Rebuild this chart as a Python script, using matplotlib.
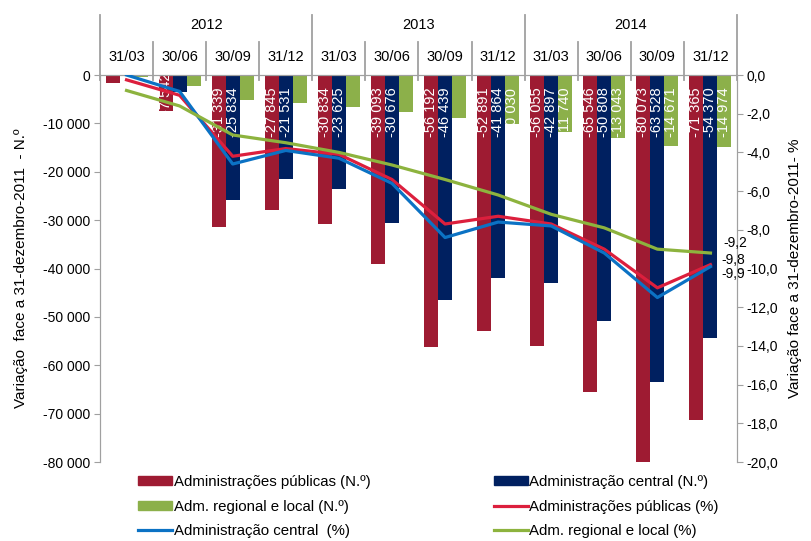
import matplotlib
matplotlib.use("Agg")
import matplotlib.pyplot as plt
from matplotlib.ticker import FuncFormatter, FixedLocator
from matplotlib.transforms import blended_transform_factory, offset_copy
from matplotlib.patches import Patch
from matplotlib.lines import Line2D
import numpy as np

plt.rcParams['font.family'] = ['Liberation Sans', 'DejaVu Sans']

# Dados
anos = ['2012', '2013', '2014']
datas = ['31/03', '30/06', '30/09', '31/12'] * 3

ap_n = [-1650, -7542, -31339, -27845, -30834, -39093, -56192, -52891, -56055, -65546, -80073, -71365]
ac_n = [-200, -3500, -25834, -21531, -23625, -30676, -46439, -41864, -42897, -50808, -63528, -54370]
arl_n = [-400, -2200, -5200, -5800, -6600, -7600, -8900, -10030, -11740, -13043, -14671, -14974]

ap_pct = [-0.25, -1.05, -4.2, -3.8, -4.1, -5.4, -7.7, -7.3, -7.7, -9.0, -11.0, -9.8]
ac_pct = [0.0, -0.85, -4.6, -3.9, -4.3, -5.6, -8.4, -7.6, -7.8, -9.2, -11.5, -9.9]
arl_pct = [-0.8, -1.6, -3.1, -3.5, -4.0, -4.65, -5.4, -6.2, -7.2, -7.9, -9.0, -9.2]

# Cores
c_ap = '#9E1B32'
c_ac = '#002060'
c_arl = '#8CB04A'
l_ap = '#DC1F3D'
l_ac = '#0B72C4'
l_arl = '#8DB33E'
cinza = '#A0A0A0'

W, H = 812, 541
fig = plt.figure(figsize=(W / 100, H / 100), dpi=100)
ax = fig.add_axes([100 / W, 1 - 462 / H, 637 / W, 387 / H])
ax2 = ax.twinx()

x = np.arange(len(datas))
w = 0.264
b1 = ax.bar(x - w, ap_n, w, color=c_ap, zorder=2)
b2 = ax.bar(x, ac_n, w, color=c_ac, zorder=2)
b3 = ax.bar(x + w, arl_n, w, color=c_arl, zorder=2)

ax.set_xlim(-0.5, len(datas) - 0.5)
ax.set_ylim(-80000, 0)
ax2.set_ylim(-20, 0)

# Etiquetas das barras (brancas, dentro da barra)
def fmt_n(v):
    return f"{v:,.0f}".replace(',', ' ')

for serie, dx in [(ap_n, -w), (ac_n, 0), (arl_n, w)]:
    for xi, v in zip(x, serie):
        if v <= -10000:
            ax.text(xi + dx, 0, fmt_n(v), rotation=90, ha='center', va='top',
                    color='white', fontsize=10.5, zorder=3, clip_on=True,
                    transform=offset_copy(ax.transData, fig=fig, x=0, y=-9, units='points'))
# barra curta de 30/06/2012: etiqueta centrada
ax.text(x[1] - w, ap_n[1] / 2, fmt_n(ap_n[1]), rotation=90, ha='center', va='center',
        color='white', fontsize=10.5, zorder=3, clip_on=True)

# Linhas (%)
ax2.plot(x, ap_pct, color=l_ap, lw=2.3, zorder=3)
ax2.plot(x, ac_pct, color=l_ac, lw=2.3, zorder=3)
ax2.plot(x, arl_pct, color=l_arl, lw=2.3, zorder=3)

fmt_p = lambda v: f"{v:.1f}".replace('.', ',')
ax2.annotate(fmt_p(arl_pct[-1]), (x[-1], arl_pct[-1]), xytext=(9.5, 7), textcoords='offset points',
             ha='left', va='center', fontsize=10, annotation_clip=False)
ax2.annotate(fmt_p(ap_pct[-1]), (x[-1], ap_pct[-1]), xytext=(8, 3), textcoords='offset points',
             ha='left', va='center', fontsize=10, annotation_clip=False)
ax2.annotate(fmt_p(ac_pct[-1]), (x[-1], ac_pct[-1]), xytext=(8, -5), textcoords='offset points',
             ha='left', va='center', fontsize=10, annotation_clip=False)

# Eixos
for a in (ax, ax2):
    a.spines['bottom'].set_visible(False)
    a.spines['top'].set_color(cinza)
    a.spines['left'].set_color(cinza)
    a.spines['right'].set_color(cinza)
    a.tick_params(axis='y', direction='out', length=4, color=cinza, labelsize=10, pad=3)
ax.set_xticks([])
ax.yaxis.set_major_locator(FixedLocator(list(range(-80000, 1, 10000))))
ax.yaxis.set_major_formatter(FuncFormatter(lambda v, p: fmt_n(v)))
ax2.yaxis.set_major_locator(FixedLocator(list(range(-20, 1, 2))))
ax2.yaxis.set_major_formatter(FuncFormatter(lambda v, p: fmt_p(v)))

ax.set_ylabel("Variação  face a 31-dezembro-2011  - N.º", fontsize=11, labelpad=11)
ax2.set_ylabel("Variação face a 31-dezembro-2011- %", fontsize=11, labelpad=7)

# Cabeçalho com anos e datas
tr = blended_transform_factory(ax.transData, fig.transFigure)
fy = lambda py: 1 - py / H
for k in range(len(datas) + 1):
    xb = k - 0.5
    top = 15 if k % 4 == 0 else 42
    ax.add_line(Line2D([xb, xb], [fy(top), fy(80)], color=cinza, lw=1.3,
                       transform=tr, clip_on=False))
for i, d in enumerate(datas):
    fig.text(0, 0, d, transform=tr, fontsize=10.5, ha='center', va='center').set_position((i, fy(57)))
for j, a in enumerate(anos):
    fig.text(0, 0, a, transform=tr, fontsize=10.5, ha='center', va='center').set_position((4 * j + 1.5, fy(25)))

# Legenda
handles = [Patch(color=c_ap), Patch(color=c_arl), Line2D([], [], color=l_ac, lw=2.3),
           Patch(color=c_ac), Line2D([], [], color=l_ap, lw=2.3), Line2D([], [], color=l_arl, lw=2.3)]
labels = ["Administrações públicas (N.º)", "Adm. regional e local (N.º)", "Administração central  (%)",
          "Administração central (N.º)", "Administrações públicas (%)", "Adm. regional e local (%)"]
fig.legend(handles, labels, ncol=2, loc='upper left', bbox_to_anchor=(138 / W, 1 - 475 / H),
           frameon=False, fontsize=10.8, handlelength=2.27, handleheight=0.55, handletextpad=0.12,
           columnspacing=8.2, labelspacing=0.7, borderpad=0, borderaxespad=0)

fig.savefig('out.png', dpi=100)
